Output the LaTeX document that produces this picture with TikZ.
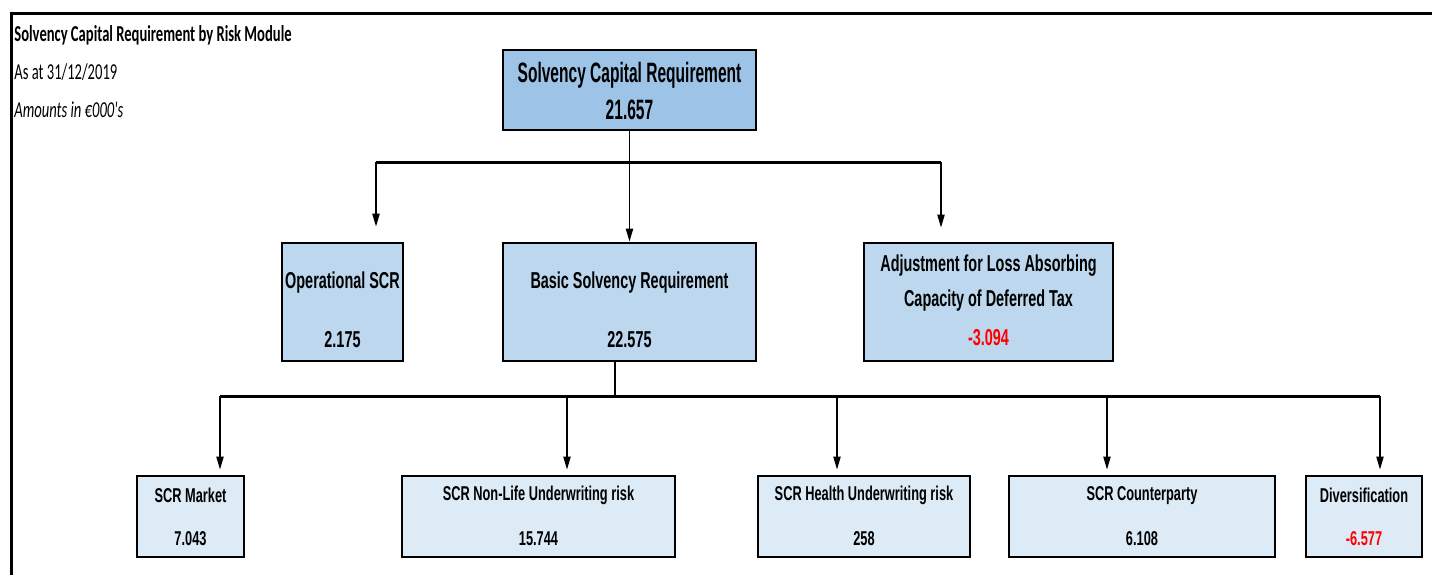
\documentclass[tikz,border=0pt]{standalone}
\usepackage{fontspec}
\usetikzlibrary{calc,fit,arrows.meta}
\newfontfamily\titlefont[FakeStretch=0.64]{Carlito}
\newfontfamily\topfont[FakeStretch=0.555]{Liberation Sans}
\newfontfamily\midfont[FakeStretch=0.627]{Liberation Sans}
\newfontfamily\lowfont[FakeStretch=0.64]{Liberation Sans}
\definecolor{topblue}{HTML}{9DC3E6}
\definecolor{midblue}{HTML}{BDD7EE}
\definecolor{lowblue}{HTML}{DDEBF7}
\tikzset{
  box/.style={draw=black,line width=1.4pt,inner sep=0pt},
  topbox/.style={box,fill=topblue},
  midbox/.style={box,fill=midblue},
  lowbox/.style={box,fill=lowblue},
  toptext/.style={font=\topfont\fontsize{14pt}{16pt}\selectfont\bfseries,inner sep=0pt},
  midtext/.style={font=\midfont\fontsize{11.5pt}{13pt}\selectfont\bfseries,inner sep=0pt},
  lowtext/.style={font=\lowfont\fontsize{10pt}{12pt}\selectfont\bfseries,inner sep=0pt},
  neg/.style={text=red},
  bar/.style={line width=1.5pt},
  arr/.style={line width=0.75pt,-{Triangle[length=6.5pt,width=3.6pt]}}
}
\begin{document}
\begin{tikzpicture}[x=0.5pt,y=-0.5pt]
\useasboundingbox (0,0) rectangle (1432,575);
% frame
\draw[line width=1.5pt] (1432,13) -- (11,13) -- (11,575);
% heading
\node[anchor=west,inner sep=0pt,font=\titlefont\fontsize{11.4pt}{13pt}\selectfont\bfseries] (head) at (14,35) {Solvency Capital Requirement by Risk Module};
\node[anchor=west,inner sep=0pt,font=\titlefont\fontsize{11.4pt}{13pt}\selectfont] (date) at (14,72) {As at 31/12/2019};
\node[anchor=west,inner sep=0pt,font=\titlefont\fontsize{11.4pt}{13pt}\selectfont\itshape] (unit) at (14,110) {Amounts in €000's};
% boxes
\node[topbox,fit={(503,50) (756,130)}] (scr) {};
\node[midbox,fit={(282,243) (403,361)}] (opr) {};
\node[midbox,fit={(503,243) (756,361)}] (bsr) {};
\node[midbox,fit={(864,243) (1113,361)}] (adj) {};
\node[lowbox,fit={(137,476) (244,557)}] (mkt) {};
\node[lowbox,fit={(402,476) (675,557)}] (nl) {};
\node[lowbox,fit={(758,476) (970,557)}] (hl) {};
\node[lowbox,fit={(1009,476) (1275,557)}] (cp) {};
\node[lowbox,fit={(1306,476) (1422,557)}] (dv) {};
% texts
\node[toptext] (scrT) at ($(scr.north)+(0,27)$) {Solvency Capital Requirement};
\node[toptext] (scrV) at ($(scr.north)+(0,61)$) {21.657};
\node[midtext] (oprT) at ($(opr.north)+(0,41)$) {Operational SCR};
\node[midtext] (oprV) at ($(opr.north)+(0,98)$) {2.175};
\node[midtext] (bsrT) at ($(bsr.north)+(0,41)$) {Basic Solvency Requirement};
\node[midtext] (bsrV) at ($(bsr.north)+(0,98)$) {22.575};
\node[midtext] (adjT) at ($(adj.north)+(0,24)$) {Adjustment for Loss Absorbing};
\node[midtext] (adjU) at ($(adj.north)+(0,59)$) {Capacity of Deferred Tax};
\node[midtext,neg] (adjV) at ($(adj.north)+(0,96)$) {-3.094};
\foreach \B/\T/\V/\C in {mkt/SCR Market/7.043/black,nl/SCR Non-Life Underwriting risk/15.744/black,hl/SCR Health Underwriting risk/258/black,cp/SCR Counterparty/6.108/black,dv/Diversification/-6.577/red}
{
  \node[lowtext] (\B T) at ($(\B.north)+(0,21)$) {\T};
  \node[lowtext,text=\C] (\B V) at ($(\B.north)+(0,64)$) {\V};
}
% upper connectors
\coordinate (barL) at (376,162);
\coordinate (barR) at (941,162);
\draw[bar] (barL) -- (barR);
\draw[arr] (scr.south) -- (bsr.north);
\draw[arr,shorten >=7.5pt] (barL) -- (barL |- opr.north);
\draw[arr,shorten >=7pt] (barR) -- (barR |- adj.north);
% lower connectors
\coordinate (subM) at (615,396);
\coordinate (subL) at (220,396);
\coordinate (subR) at (1380,396);
\draw[line width=0.75pt] (subM |- bsr.south) -- (subM);
\draw[bar] (subL) -- (subR);
\foreach \X/\B in {220/mkt,567/nl,837/hl,1107/cp,1380/dv}
{
  \coordinate (j\B) at (\X,396);
  \draw[arr,shorten >=2.5pt] (j\B) -- (j\B |- \B.north);
}
\end{tikzpicture}
\end{document}
